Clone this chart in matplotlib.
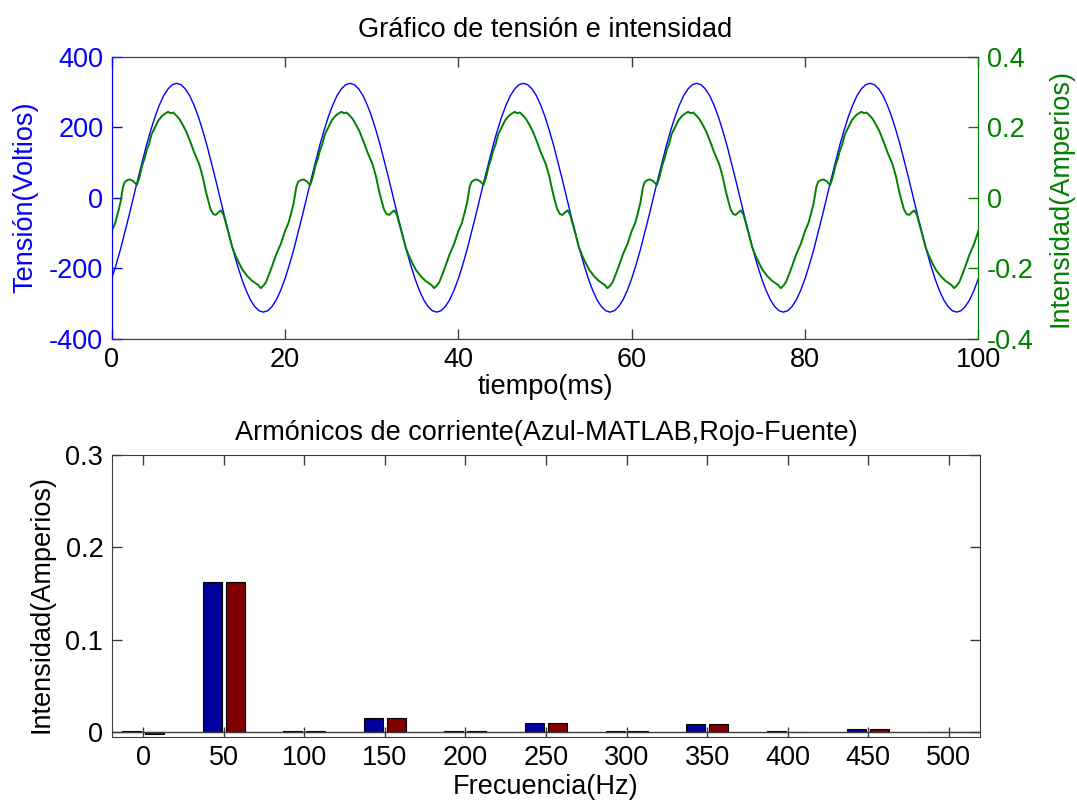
# Tensión e intensidad de red y armónicos de corriente (medida frente a fuente)
import matplotlib
matplotlib.use("Agg")
import matplotlib.pyplot as plt
import numpy as np

plt.rcParams["font.family"] = ["Liberation Sans", "DejaVu Sans"]
plt.rcParams["axes.unicode_minus"] = False

# --- datos -------------------------------------------------------------
periodo_ms = 20.0
n_periodos = 5

# tensión en un periodo (ms, V)
t_tension = [0.0, 0.5, 1.0, 1.5, 2.0, 2.5, 3.0, 3.5, 4.0, 4.5,
             5.0, 5.5, 6.0, 6.5, 7.0, 7.5, 8.0, 8.5, 9.0, 9.5,
             10.0, 10.5, 11.0, 11.5, 12.0, 12.5, 13.0, 13.5, 14.0, 14.5,
             15.0, 15.5, 16.0, 16.5, 17.0, 17.5, 18.0, 18.5, 19.0, 19.5]
v_tension = [-230, -191, -148, -100, -51, 0, 51, 100, 148, 191,
             230, 263, 290, 309, 321, 325, 321, 309, 290, 263,
             230, 191, 148, 100, 51, 0, -51, -100, -148, -191,
             -230, -263, -290, -309, -321, -325, -321, -309, -290, -263]

# intensidad en un periodo (ms, A)
t_corriente = [0.0, 0.4, 0.7, 1.0, 1.3, 1.5, 1.8, 2.1, 2.5, 2.9,
               3.2, 3.5, 3.8, 4.0, 4.3, 4.6, 5.0, 5.4, 5.8, 6.1,
               6.5, 6.8, 7.1, 7.4, 7.8, 8.2, 8.6, 9.1, 9.5, 10.1,
               10.5, 10.8, 11.1, 11.4, 11.7, 12.0, 12.3, 12.6, 12.9, 13.2,
               13.5, 13.9, 14.3, 14.7, 15.1, 15.7, 16.2, 16.6, 16.9, 17.2,
               17.5, 17.8, 18.2, 18.6, 19.0, 19.5]
i_corriente = [-0.095, -0.072, -0.045, -0.015, 0.030, 0.044, 0.050, 0.052, 0.047, 0.036,
               0.058, 0.090, 0.112, 0.132, 0.152, 0.180, 0.200, 0.220, 0.232, 0.238,
               0.244, 0.240, 0.242, 0.235, 0.224, 0.207, 0.188, 0.157, 0.130, 0.095,
               0.060, 0.025, -0.005, -0.032, -0.046, -0.049, -0.042, -0.036, -0.048, -0.075,
               -0.102, -0.140, -0.165, -0.186, -0.205, -0.224, -0.236, -0.243, -0.248, -0.257,
               -0.250, -0.240, -0.215, -0.188, -0.160, -0.132]

# armónicos de corriente (Hz, A eficaces)
frecuencias = [0, 50, 100, 150, 200, 250, 300, 350, 400, 450, 500]
armonicos_matlab = [0.0020, 0.163, 0.0015, 0.0160, 0.0018, 0.0097, 0.0018, 0.0090, 0.0010, 0.0036, 0.0006]
armonicos_fuente = [-0.0015, 0.163, 0.0015, 0.0160, 0.0015, 0.0097, 0.0014, 0.0090, 0.0008, 0.0036, 0.0005]


def repetir_periodo(t, y):
    """Encadena el periodo medido n_periodos veces y cierra en t = 100 ms."""
    t = np.asarray(t, dtype=float)
    y = np.asarray(y, dtype=float)
    tt = np.concatenate([t + k * periodo_ms for k in range(n_periodos)] + [[n_periodos * periodo_ms]])
    yy = np.concatenate([y] * n_periodos + [y[:1]])
    return tt, yy


AZUL = "#0000ff"
VERDE = "#008000"
GRIS = "#3c3c3c"
FS = 19.5

fig = plt.figure(figsize=(10.77, 8.07), dpi=100)

# --- gráfico superior: tensión / intensidad ----------------------------
ax1 = fig.add_axes([0.1037, 0.5805, 0.8047, 0.349])
ax2 = ax1.twinx()

tv, vv = repetir_periodo(t_tension, v_tension)
ti, ii = repetir_periodo(t_corriente, i_corriente)
ax1.plot(tv, vv, color=AZUL, linewidth=1.0)
ax2.plot(ti, ii, color=VERDE, linewidth=1.4)

ax1.set_xlim(0, 100)
ax1.set_ylim(-400, 400)
ax1.set_xticks(np.arange(0, 101, 20))
ax1.set_yticks([-400, -200, 0, 200, 400])
ax2.set_ylim(-0.4, 0.4)
ax2.set_yticks([-0.4, -0.2, 0, 0.2, 0.4])
ax2.set_yticklabels(["-0.4", "-0.2", "0", "0.2", "0.4"])

ax1.tick_params(axis="x", direction="in", length=7, width=1, top=True,
                labelsize=FS, pad=6, colors=GRIS, labelcolor="black")
ax1.tick_params(axis="y", direction="in", length=7, width=1,
                labelsize=FS, pad=6, colors=AZUL)
ax2.tick_params(axis="y", direction="in", length=7, width=1,
                labelsize=FS, pad=6, colors=VERDE)

for a in (ax1, ax2):
    a.spines["top"].set_color(GRIS)
    a.spines["bottom"].set_color(GRIS)
ax1.spines["left"].set_color(AZUL)
ax2.spines["left"].set_color(AZUL)
ax2.spines["right"].set_color(VERDE)
ax1.spines["right"].set_visible(False)

ax1.set_title("Gráfico de tensión e intensidad", fontsize=FS, pad=14)
ax1.set_xlabel("tiempo(ms)", fontsize=FS, labelpad=1)
ax1.set_ylabel("Tensión(Voltios)", fontsize=FS, color=AZUL)
ax1.yaxis.set_label_coords(-0.085, 0.5)
ax2.set_ylabel("Intensidad(Amperios)", fontsize=FS, color=VERDE)
ax2.yaxis.set_label_coords(1.08, 0.5)

# --- gráfico inferior: armónicos ---------------------------------------
ax3 = fig.add_axes([0.1037, 0.0867, 0.8065, 0.3495])

ancho = 11.8
desfase = 7.1
x = np.asarray(frecuencias, dtype=float)
ax3.bar(x - desfase, armonicos_matlab, width=ancho, color="#00009c",
        edgecolor="black", linewidth=0.8, zorder=2)
ax3.bar(x + desfase, armonicos_fuente, width=ancho, color="#800000",
        edgecolor="black", linewidth=0.8, zorder=2)
ax3.axhline(0, color=GRIS, linewidth=1.0, zorder=3)

ax3.set_xlim(-19.5, 519.5)
ax3.set_ylim(-0.005, 0.3)
ax3.set_xticks(frecuencias)
ax3.set_yticks([0, 0.1, 0.2, 0.3])
ax3.set_yticklabels(["0", "0.1", "0.2", "0.3"])
ax3.tick_params(direction="in", length=7, width=1, top=True, right=True,
                labelsize=FS, pad=6, colors=GRIS, labelcolor="black")
for s in ax3.spines.values():
    s.set_color(GRIS)

ax3.set_title("Armónicos de corriente(Azul-MATLAB,Rojo-Fuente)", fontsize=FS, pad=11)
ax3.set_xlabel("Frecuencia(Hz)", fontsize=FS, labelpad=2)
ax3.set_ylabel("Intensidad(Amperios)", fontsize=FS)
ax3.yaxis.set_label_coords(-0.066, 0.47)

fig.savefig("out.png", dpi=100, facecolor="white")
